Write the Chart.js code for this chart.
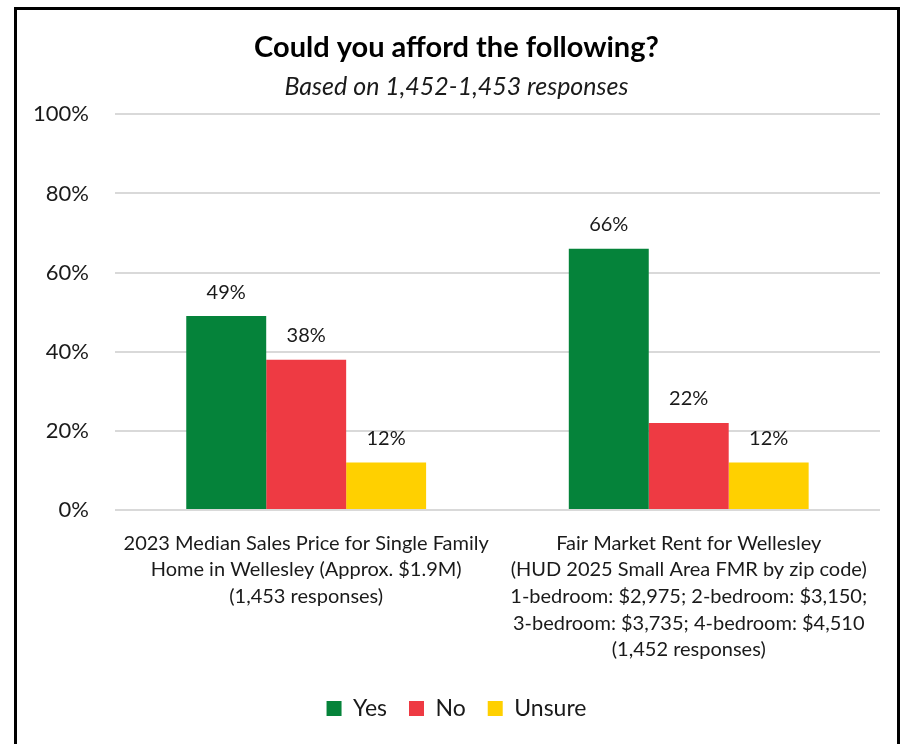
<!DOCTYPE html>
<html>
<head>
<meta charset="utf-8">
<script src="https://cdn.jsdelivr.net/npm/chart.js@4.4.0/dist/chart.umd.min.js"></script>
<style>
  html, body { margin: 0; padding: 0; background: #fff; overflow: hidden; }
  #frame {
    position: absolute; left: 14px; top: 7px;
    width: 880px; height: 760px;
    border: 3px solid #000; background: #fff;
  }
  #wrap { position: relative; width: 880px; height: 734px; }
</style>
</head>
<body>
<div id="frame"><div id="wrap"><canvas id="c"></canvas></div></div>
<script>
const categories = [
  ['2023 Median Sales Price for Single Family', 'Home in Wellesley (Approx. $1.9M)', '(1,453 responses)'],
  ['Fair Market Rent for Wellesley', '(HUD 2025 Small Area FMR by zip code)', '1-bedroom: $2,975; 2-bedroom: $3,150;', '3-bedroom: $3,735; 4-bedroom: $4,510', '(1,452 responses)']
];
const yesVals = [49, 66];
const noVals = [38, 22];
const unsureVals = [12, 12];
const yTicks = [0, 20, 40, 60, 80, 100];

const FONT = 'Lato, "Open Sans", sans-serif';

// value labels above each bar
const barLabels = {
  id: 'barLabels',
  afterDatasetsDraw(chart) {
    const ctx = chart.ctx;
    ctx.save();
    ctx.font = '20px ' + FONT;
    ctx.fillStyle = '#1a1a1a';
    ctx.textAlign = 'center';
    ctx.textBaseline = 'middle';
    chart.data.datasets.forEach((ds, i) => {
      chart.getDatasetMeta(i).data.forEach((bar, j) => {
        ctx.fillText(ds.data[j] + '%', bar.x, bar.y - 24);
      });
    });
    ctx.restore();
  }
};

new Chart(document.getElementById('c'), {
  type: 'bar',
  data: {
    labels: categories,
    datasets: [
      { label: 'Yes', data: yesVals, backgroundColor: '#05833A' },
      { label: 'No', data: noVals, backgroundColor: '#EE3A43' },
      { label: 'Unsure', data: unsureVals, backgroundColor: '#FFD000' }
    ]
  },
  options: {
    responsive: true,
    maintainAspectRatio: false,
    animation: false,
    layout: { padding: { left: 16, right: 17, top: 0, bottom: 14 } },
    datasets: { bar: { categoryPercentage: 0.627, barPercentage: 1 } },
    scales: {
      y: {
        min: 0, max: 100,
        afterBuildTicks: axis => { axis.ticks = yTicks.map(v => ({ value: v })); },
        // tick padding is counted on both sides of the labels; keep only the inner gap
        afterFit: s => { s.width -= s.options.ticks.padding; },
        ticks: { callback: v => v + '%', font: { size: 22, family: FONT }, color: '#1a1a1a', padding: 26 },
        grid: { color: '#D9D9D9', lineWidth: 2, drawTicks: false },
        border: { display: false }
      },
      x: {
        // long wrapped labels may overhang the plot edges
        afterFit: s => { s.paddingLeft = 0; s.paddingRight = 0; },
        ticks: { font: { size: 20, family: FONT, lineHeight: 1.33 }, color: '#1a1a1a', padding: 12, maxRotation: 0, autoSkip: false },
        grid: { display: false },
        border: { display: false }
      }
    },
    plugins: {
      title: {
        display: true,
        text: 'Could you afford the following?',
        font: { size: 29, weight: 'bold', family: FONT },
        color: '#000',
        padding: { top: 20, bottom: 7 }
      },
      subtitle: {
        display: true,
        text: 'Based on 1,452-1,453 responses',
        font: { size: 25, style: 'italic', family: FONT },
        color: '#1a1a1a',
        padding: { bottom: 12.5 }
      },
      legend: {
        position: 'bottom',
        labels: { boxWidth: 15, boxHeight: 15, font: { size: 23, family: FONT }, color: '#1a1a1a', padding: 22 }
      },
      tooltip: { enabled: false }
    }
  },
  plugins: [barLabels]
});
</script>
</body>
</html>
